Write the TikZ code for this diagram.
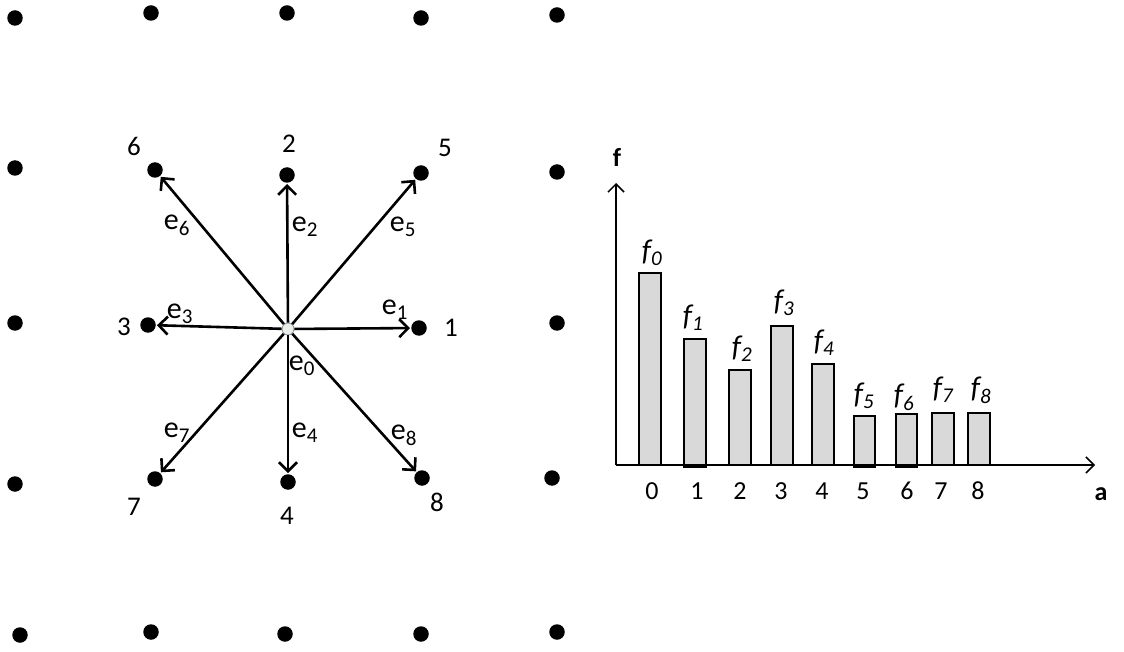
\documentclass[tikz,border=0pt]{standalone}
\usepackage{fontspec}
\setmainfont{Carlito}
\usetikzlibrary{arrows.meta}
\begin{document}
\begin{tikzpicture}[x=1pt,y=-1pt,
 dot/.style={circle,fill=black,inner sep=0pt,minimum size=15.5pt},
 vec/.style={line width=2.6pt,-{Straight Barb[length=9pt,width=18pt,line width=2.6pt]},shorten >=1pt},
 num/.style={font=\fontsize{27}{29}\selectfont,inner sep=0pt},
 elab/.style={font=\fontsize{30}{32}\selectfont,inner sep=0pt},
 bar/.style={draw=black,line width=1.6pt,fill=gray!30},
 axis/.style={line width=1.5pt,-{Straight Barb[length=8pt,width=16pt,line width=1.5pt]}},
 flab/.style={font=\fontsize{30}{32}\selectfont\itshape,inner sep=0pt},
 tick/.style={font=\fontsize{26}{28}\selectfont,inner sep=0pt},
 alab/.style={font=\fontsize{26}{28}\selectfont\bfseries,inner sep=0pt}]
\useasboundingbox (0,0) rectangle (1124,652);
% outer lattice dots
\node[dot] (a1) at (15,18) {};
\node[dot] (a2) at (151,13) {};
\node[dot] (a3) at (287,13) {};
\node[dot] (a4) at (421,18) {};
\node[dot] (a5) at (557,15) {};
\node[dot] (b1) at (15,168) {};
\node[dot] (b5) at (557,172) {};
\node[dot] (c1) at (15,323) {};
\node[dot] (c5) at (557,323) {};
\node[dot] (d1) at (15,484) {};
\node[dot] (d5) at (552,478) {};
\node[dot] (e1) at (20,635) {};
\node[dot] (e2) at (151,632) {};
\node[dot] (e3) at (285,634) {};
\node[dot] (e4) at (421,634) {};
\node[dot] (e5) at (557,632) {};
% neighbour dots
\node[dot] (n6) at (155,170) {};
\node[dot] (n2) at (287,175) {};
\node[dot] (n5) at (421,173) {};
\node[dot] (n3) at (148,325) {};
\node[dot] (n1) at (419,328) {};
\node[dot] (n7) at (155,479) {};
\node[dot] (n4) at (288,482) {};
\node[dot] (n8) at (422,478) {};
% centre
\node[circle,minimum size=12pt,inner sep=0pt,fill={rgb,255:red,236;green,236;blue,228},draw={rgb,255:red,120;green,145;blue,170},line width=0.8pt] (c) at (288,329) {};
% vectors
\foreach \n in {n1,n2,n3,n4,n5,n6,n7,n8} \draw[vec] (c) -- (\n);
% numbers
\node[num] (l6) at (134,146) {6};
\node[num] (l2) at (289,144) {2};
\node[num] (l5) at (445,148) {5};
\node[num] (l3) at (124,327) {3};
\node[num] (l1) at (451,328) {1};
\node[num] (l7) at (134,507) {7};
\node[num] (l4) at (287,516) {4};
\node[num] (l8) at (437,502) {8};
% e labels
\node[elab] (le6) at (177,225) {e\textsubscript{6}};
\node[elab] (le2) at (305,227) {e\textsubscript{2}};
\node[elab] (le5) at (403,227) {e\textsubscript{5}};
\node[elab] (le3) at (180,314) {e\textsubscript{3}};
\node[elab] (le1) at (395,310) {e\textsubscript{1}};
\node[elab] (le0) at (302,366) {e\textsubscript{0}};
\node[elab] (le7) at (177,433) {e\textsubscript{7}};
\node[elab] (le4) at (305,433) {e\textsubscript{4}};
\node[elab] (le8) at (404,435) {e\textsubscript{8}};
% bar chart
\coordinate (o) at (616,465);
\coordinate (yt) at (616,183);
\coordinate (xt) at (1095,465);
\draw[bar] (639,465) rectangle (661,273);
\draw[bar] (684,467) rectangle (706,339);
\draw[bar] (729,465) rectangle (751,370);
\draw[bar] (771,465) rectangle (793,326);
\draw[bar] (812,465) rectangle (834,364);
\draw[bar] (854,467) rectangle (875,416);
\draw[bar] (896,467) rectangle (917,414);
\draw[bar] (932,465) rectangle (954,413);
\draw[bar] (968,465) rectangle (990,413);
\draw[axis] (o) -- (yt);
\draw[axis] (o) -- (xt);
\node[alab] (fa) at (617,157) {f};
\node[alab] (aa) at (1101,494) {a};
\node[flab] (f0) at (652,253) {f\textsubscript{0}};
\node[flab] (f1) at (693,318) {f\textsubscript{1}};
\node[flab] (f2) at (742,349) {f\textsubscript{2}};
\node[flab] (f3) at (784,303) {f\textsubscript{3}};
\node[flab] (f4) at (824,343) {f\textsubscript{4}};
\node[flab] (f5) at (864,396) {f\textsubscript{5}};
\node[flab] (f6) at (904,397) {f\textsubscript{6}};
\node[flab] (f7) at (943,390) {f\textsubscript{7}};
\node[flab] (f8) at (981,390) {f\textsubscript{8}};
\node[tick] (t0) at (652,491) {0};
\node[tick] (t1) at (697,491) {1};
\node[tick] (t2) at (740,491) {2};
\node[tick] (t3) at (781,491) {3};
\node[tick] (t4) at (822,491) {4};
\node[tick] (t5) at (863,491) {5};
\node[tick] (t6) at (907,491) {6};
\node[tick] (t7) at (941,491) {7};
\node[tick] (t8) at (978,491) {8};
\end{tikzpicture}
\end{document}
